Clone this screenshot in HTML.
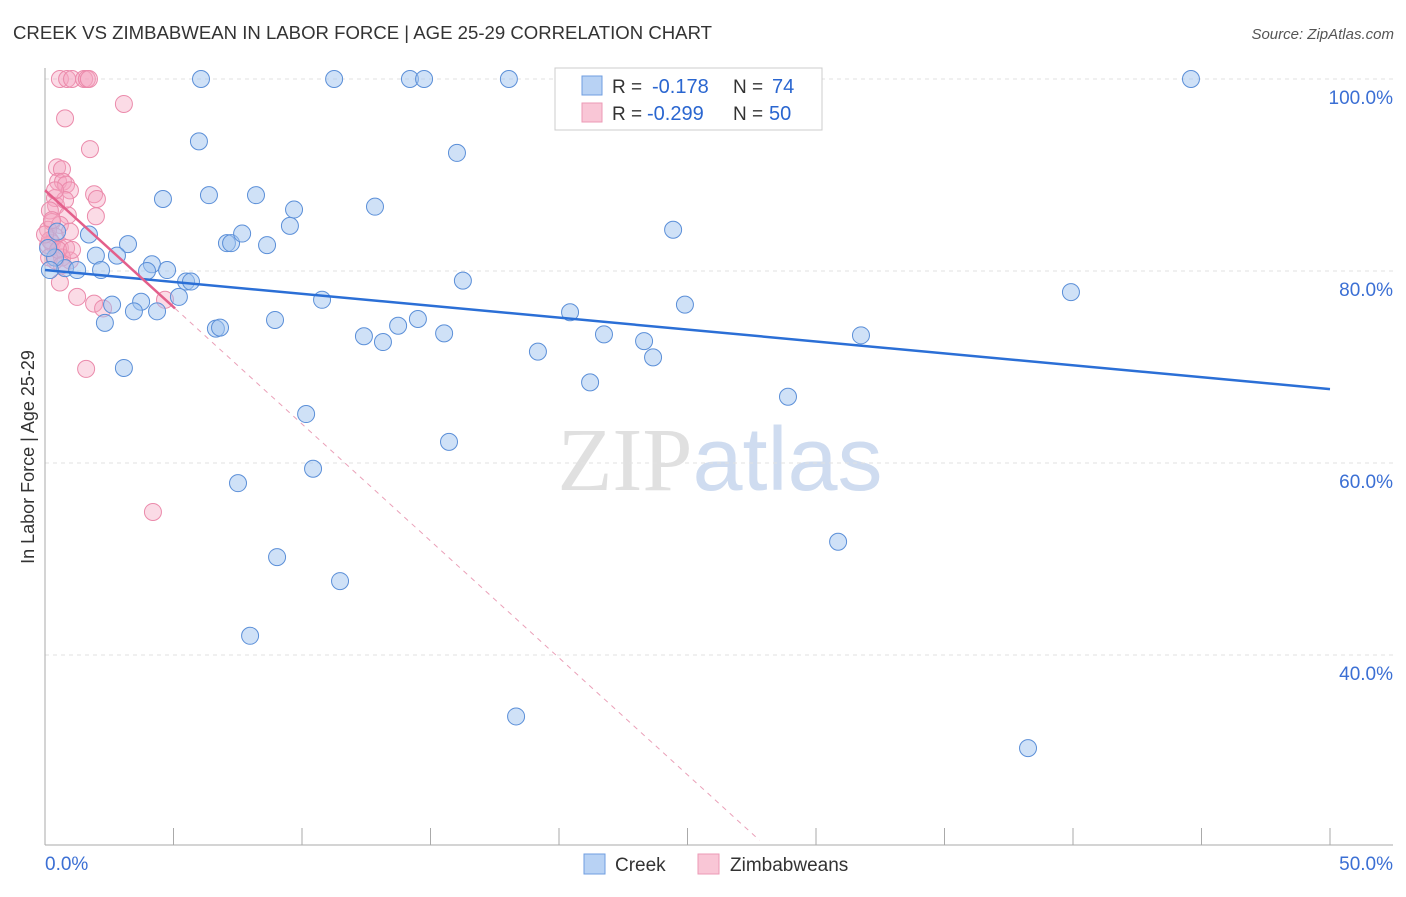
<!DOCTYPE html>
<html><head><meta charset="utf-8"><style>
body{margin:0;background:#fff;font-family:"Liberation Sans",sans-serif;}
svg text{font-family:"Liberation Sans",sans-serif;}
</style></head><body>
<svg id="chart" width="1406" height="892" xmlns="http://www.w3.org/2000/svg">
<text x="13" y="39" font-size="18" fill="#333" textLength="699" lengthAdjust="spacingAndGlyphs">CREEK VS ZIMBABWEAN IN LABOR FORCE | AGE 25-29 CORRELATION CHART</text>
<text x="1394" y="39" font-size="15" fill="#555" text-anchor="end" font-style="italic">Source: ZipAtlas.com</text>
<text x="720" y="490" font-size="90" text-anchor="middle"><tspan fill="#e0e0e0" font-family="Liberation Serif">ZIP</tspan><tspan fill="#cfdcf0">atlas</tspan></text>
<g id="grid"></g><g id="axes"></g><g id="pts"></g><g id="lines"></g>
<text transform="translate(34,457) rotate(-90)" font-size="18" fill="#333" text-anchor="middle">In Labor Force | Age 25-29</text>
<g>
<rect x="555" y="68" width="267" height="62" fill="#fff" stroke="#ccc"/>
<rect x="582" y="76" width="20" height="19" fill="#b8d2f4" stroke="#6f9ee0"/>
<rect x="582" y="103" width="20" height="19" fill="#f9c6d6" stroke="#ec9ab6"/>
<text x="612" y="93" font-size="19" fill="#333">R =</text>
<text x="652" y="93" font-size="20" fill="#2a66d0">-0.178</text>
<text x="733" y="93" font-size="19" fill="#333">N =</text>
<text x="772" y="93" font-size="20" fill="#2a66d0">74</text>
<text x="612" y="120" font-size="19" fill="#333">R =</text>
<text x="647" y="120" font-size="20" fill="#2a66d0">-0.299</text>
<text x="733" y="120" font-size="19" fill="#333">N =</text>
<text x="769" y="120" font-size="20" fill="#2a66d0">50</text>
</g>
<g>
<rect x="584" y="854" width="21" height="20" fill="#b8d2f4" stroke="#6f9ee0"/>
<text x="615" y="871" font-size="19" fill="#333">Creek</text>
<rect x="698" y="854" width="21" height="20" fill="#f9c6d6" stroke="#ec9ab6"/>
<text x="730" y="871" font-size="19" fill="#333">Zimbabweans</text>
</g>
</svg>
<script>
const blueX=[201,334,410,424,509,745,1191,199,457,163,209,256,294,375,290,89,128,227,231,242,267,673,96,117,152,147,167,65,77,101,186,191,179,112,141,134,157,105,216,220,275,322,463,570,685,1071,364,383,398,418,444,538,604,644,653,861,590,124,788,306,449,313,238,277,340,838,250,516,1028,55,48,57,50].map(p=>+((p-45)/25.7).toFixed(2));
const blueY=[79,79,79,79,79,79,79,141,153,199,195,195,210,207,226,235,244,243,243,234,245,230,256,256,264,271,270,268,270,270,282,282,297,305,302,311,311,323,329,328,320,300,281,312,305,292,336,342,326,319,333,352,334,341,357,335,382,368,397,414,442,469,483,557,581,542,636,716,748,258,248,232,270].map(p=>+(100-(p-79)/9.6).toFixed(1));
const pinkX=[60,67,72,84,87,89,124,65,90,57,62,58,63,66,70,94,97,55,56,50,96,68,52,60,48,70,55,52,60,66,48,70,55,62,49,60,77,94,103,165,86,153,50,58,52,45,65,55,72,62].map(p=>+((p-45)/25.7).toFixed(2));
const pinkY=[79,79,79,79,79,79,104,118,149,167,169,182,182,185,190,194,199,198,206,211,216,215,222,225,230,232,236,243,248,248,245,260,260,258,258,283,297,304,308,300,369,512,240,250,220,235,200,190,250,265].map(p=>+(100-(p-79)/9.6).toFixed(1));
const blueTrend=[[0,80.1],[50,67.7]];
const pinkTrendSolid=[[0,88.4],[5.06,76.1]];
const pinkTrendDash=[[5.06,76.1],[27.8,20.7]];
const yTicks=[100,80,60,40];
const xTickVals=[0,5,10,15,20,25,30,35,40,45,50];
const NS="http://www.w3.org/2000/svg";
const sx=v=>45+v*25.7, sy=v=>79+(100-v)*9.6;
function mk(t,a,parent){const e=document.createElementNS(NS,t);for(const k in a)e.setAttribute(k,a[k]);document.getElementById(parent).appendChild(e);return e;}
yTicks.forEach(v=>{
 const g=mk('line',{x1:45,x2:1393,y1:sy(v),y2:sy(v),stroke:'#e2e2e2','stroke-dasharray':'4,4'},'grid');
 
 
 const t=mk('text',{x:1393,y:sy(v)+25,'font-size':19,fill:'#3b6fd4','text-anchor':'end'},'axes');
 t.textContent=v.toFixed(1)+'%';
 
 
});
mk('line',{x1:45,x2:45,y1:68,y2:845,stroke:'#aaa'},'axes');
mk('line',{x1:45,x2:1393,y1:845,y2:845,stroke:'#aaa'},'axes');
xTickVals.forEach(v=>{
 const l=mk('line',{x1:sx(v),x2:sx(v),y1:828,y2:845,stroke:'#aaa'},'axes');
 
 
});
[['0.0%',45,'start'],['50.0%',1393,'end']].forEach(d=>{
 const t=mk('text',{x:d[1],y:870,'font-size':19,fill:'#3b6fd4','text-anchor':d[2]},'axes');
 t.textContent=d[0];
 
 
});
pinkX.forEach((x,i)=>{
 const c=mk('circle',{cx:sx(x),cy:sy(pinkY[i]),r:8.5,fill:'rgba(245,165,192,0.4)',stroke:'#eb8aab','stroke-width':1},'pts');
 
 
});
blueX.forEach((x,i)=>{
 const c=mk('circle',{cx:sx(x),cy:sy(blueY[i]),r:8.5,fill:'rgba(160,196,240,0.5)',stroke:'#5b8fd8','stroke-width':1},'pts');
 
 
});
const bl=mk('line',{x1:sx(blueTrend[0][0]),y1:sy(blueTrend[0][1]),x2:sx(blueTrend[1][0]),y2:sy(blueTrend[1][1]),stroke:'#2b6fd6','stroke-width':2.5},'lines');


const pl=mk('line',{x1:sx(pinkTrendSolid[0][0]),y1:sy(pinkTrendSolid[0][1]),x2:sx(pinkTrendSolid[1][0]),y2:sy(pinkTrendSolid[1][1]),stroke:'#e35f8b','stroke-width':2.5},'lines');


const pd=mk('line',{x1:sx(pinkTrendDash[0][0]),y1:sy(pinkTrendDash[0][1]),x2:sx(pinkTrendDash[1][0]),y2:sy(pinkTrendDash[1][1]),stroke:'#eaa0b8','stroke-width':1,'stroke-dasharray':'5,5'},'lines');


</script>
</body></html>
